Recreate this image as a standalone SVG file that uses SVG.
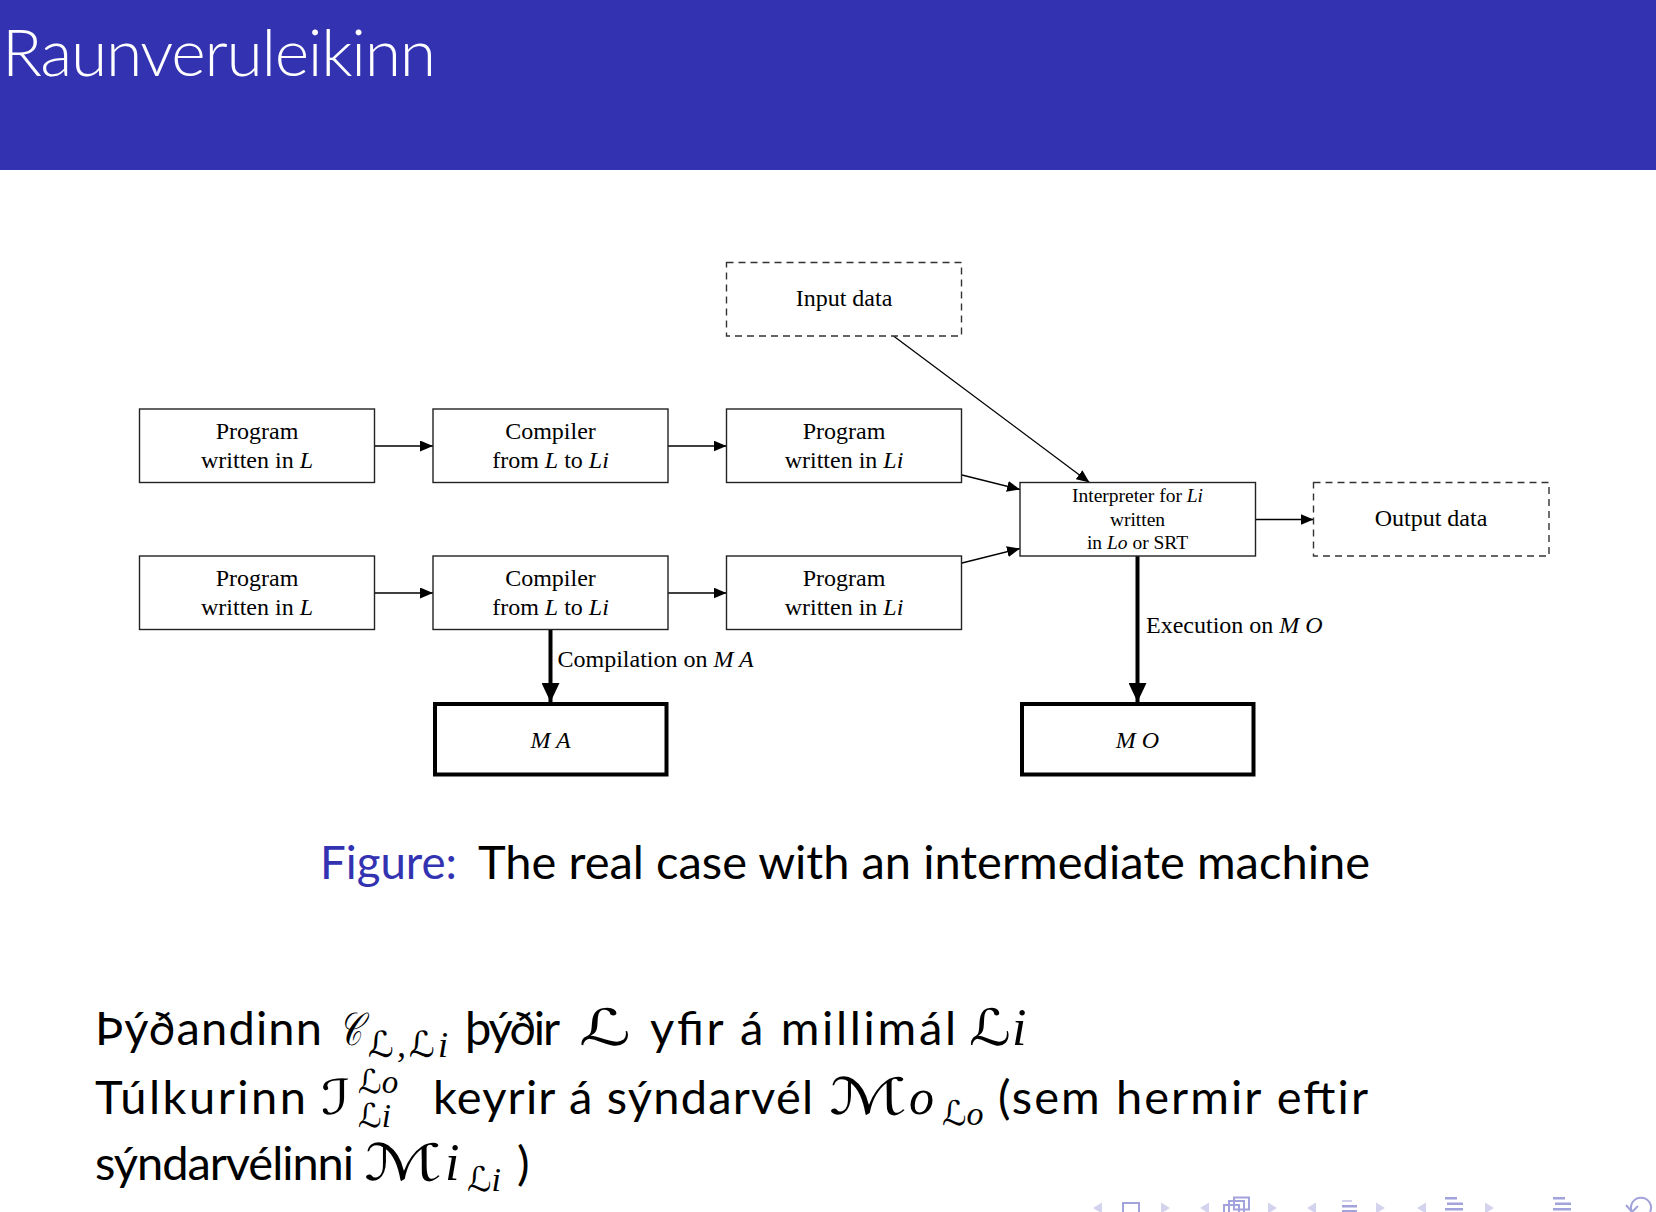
<svg xmlns="http://www.w3.org/2000/svg" width="1656" height="1212" viewBox="0 0 1656 1212">
  <style>
    .box { fill: #ffffff; stroke: #222222; stroke-width: 1.4; }
    .dash { fill: #ffffff; stroke: #333333; stroke-width: 1.4; stroke-dasharray: 7 5; }
    .mach { fill: #ffffff; stroke: #000000; stroke-width: 4; }
    .lbl { font-family: "Liberation Serif", "Times New Roman", serif; font-size: 24px; fill: #000; text-anchor: middle; }
    .small { font-size: 19.5px; }
    .edge { font-family: "Liberation Serif", "Times New Roman", serif; font-size: 24px; fill: #000; }
    .it { font-style: italic; }
    .thin { stroke: #000; stroke-width: 1.3; fill: none; marker-end: url(#head); }
    .thick { stroke: #000; stroke-width: 4; fill: none; marker-end: url(#bighead); }
    .body { font-family: Lato, "Noto Sans", sans-serif; font-size: 47px; fill: #000; }
    .fig { fill: #3333b2; }
    .math { font-family: "DejaVu Serif", "DejaVu Sans", serif; font-style: italic; fill: #000; }
    .var { font-family: "Liberation Serif", "Times New Roman", serif; font-style: italic; }
    .navtri { fill: #d3d3ee; }
    .navico { fill: none; stroke: #a2a2dc; stroke-width: 2; }
    .navbar { fill: #a2a2dc; }
  </style>
  <defs>
    <marker id="head" markerUnits="userSpaceOnUse" markerWidth="14" markerHeight="11" refX="13" refY="5.5" orient="auto">
      <path d="M0,0 L13,5.5 L0,11 z" fill="#000"/>
    </marker>
    <marker id="bighead" markerUnits="userSpaceOnUse" markerWidth="20" markerHeight="18" refX="19" refY="9" orient="auto">
      <path d="M0,0 L19,9 L0,18 z" fill="#000"/>
    </marker>
  </defs>

  <!-- frame title bar -->
  <rect x="0" y="0" width="1656" height="170" fill="#3333b2"/>
  <text x="2" y="76" font-family="Lato, 'Noto Sans', sans-serif" font-weight="300" font-size="66" fill="#ffffff" textLength="434" lengthAdjust="spacing">Raunveruleikinn</text>

  <!-- connectors -->
  <g id="connectors">
    <line class="thin" x1="374.5" y1="446" x2="433" y2="446"/>
    <line class="thin" x1="668" y1="446" x2="726.5" y2="446"/>
    <line class="thin" x1="374.5" y1="593" x2="433" y2="593"/>
    <line class="thin" x1="668" y1="593" x2="726.5" y2="593"/>
    <line class="thin" x1="962" y1="475" x2="1020" y2="489.5"/>
    <line class="thin" x1="962" y1="563" x2="1020" y2="548.5"/>
    <line class="thin" x1="893.5" y1="336" x2="1089.5" y2="482.5"/>
    <line class="thin" x1="1255.5" y1="519.5" x2="1313.5" y2="519.5"/>
    <line class="thick" x1="550.5" y1="630" x2="550.5" y2="702"/>
    <text class="edge" x="557.5" y="667">Compilation on <tspan class="it">M A</tspan></text>
    <line class="thick" x1="1137.5" y1="556" x2="1137.5" y2="702"/>
    <text class="edge" x="1146" y="633">Execution on <tspan class="it">M O</tspan></text>
  </g>

  <!-- nodes -->
  <g id="input-data">
    <rect class="dash" x="726.5" y="262.5" width="235" height="73.5"/>
    <text class="lbl" x="844" y="306">Input data</text>
  </g>
  <g id="prog-l-1">
    <rect class="box" x="139.5" y="409" width="235" height="73.5"/>
    <text class="lbl" x="257" y="439">Program</text>
    <text class="lbl" x="257" y="468">written in <tspan class="it">L</tspan></text>
  </g>
  <g id="compiler-1">
    <rect class="box" x="433" y="409" width="235" height="73.5"/>
    <text class="lbl" x="550.5" y="439">Compiler</text>
    <text class="lbl" x="550.5" y="468">from <tspan class="it">L</tspan> to <tspan class="it">Li</tspan></text>
  </g>
  <g id="prog-li-1">
    <rect class="box" x="726.5" y="409" width="235" height="73.5"/>
    <text class="lbl" x="844" y="439">Program</text>
    <text class="lbl" x="844" y="468">written in <tspan class="it">Li</tspan></text>
  </g>
  <g id="interpreter">
    <rect class="box" x="1020" y="482.5" width="235.5" height="73.5"/>
    <text class="lbl small" x="1137.5" y="502">Interpreter for <tspan class="it">Li</tspan></text>
    <text class="lbl small" x="1137.5" y="525.5">written</text>
    <text class="lbl small" x="1137.5" y="549">in <tspan class="it">Lo</tspan> or SRT</text>
  </g>
  <g id="output-data">
    <rect class="dash" x="1313.5" y="482.5" width="235.5" height="73.5"/>
    <text class="lbl" x="1431" y="526">Output data</text>
  </g>
  <g id="prog-l-2">
    <rect class="box" x="139.5" y="556" width="235" height="73.5"/>
    <text class="lbl" x="257" y="586">Program</text>
    <text class="lbl" x="257" y="615">written in <tspan class="it">L</tspan></text>
  </g>
  <g id="compiler-2">
    <rect class="box" x="433" y="556" width="235" height="73.5"/>
    <text class="lbl" x="550.5" y="586">Compiler</text>
    <text class="lbl" x="550.5" y="615">from <tspan class="it">L</tspan> to <tspan class="it">Li</tspan></text>
  </g>
  <g id="prog-li-2">
    <rect class="box" x="726.5" y="556" width="235" height="73.5"/>
    <text class="lbl" x="844" y="586">Program</text>
    <text class="lbl" x="844" y="615">written in <tspan class="it">Li</tspan></text>
  </g>
  <g id="machine-ma">
    <rect class="mach" x="435" y="704" width="231.5" height="70.5"/>
    <text class="lbl it" x="550.5" y="747.5">M A</text>
  </g>
  <g id="machine-mo">
    <rect class="mach" x="1022" y="704" width="231.5" height="70.5"/>
    <text class="lbl it" x="1137.5" y="747.5">M O</text>
  </g>

  <!-- caption -->
  <text class="body fig" x="320" y="879" font-size="45" textLength="137" lengthAdjust="spacingAndGlyphs">Figure:</text>
  <text class="body" x="478" y="879" font-size="45" textLength="892" lengthAdjust="spacing">The real case with an intermediate machine</text>

  <!-- body text, line 1 -->
  <text class="body" x="95" y="1045" textLength="227" lengthAdjust="spacing">Þýðandinn</text>
  <text class="math" x="339" y="1045" font-size="46" textLength="23" lengthAdjust="spacingAndGlyphs">𝒞</text>
  <text class="math" x="368" y="1057" font-size="36" textLength="80" lengthAdjust="spacing">ℒ<tspan class="var">,</tspan>ℒ<tspan class="var">i</tspan></text>
  <text class="body" x="465" y="1045" textLength="95" lengthAdjust="spacing">þýðir</text>
  <text class="math" x="579" y="1045" font-size="50" textLength="52" lengthAdjust="spacingAndGlyphs">ℒ</text>
  <text class="body" x="650" y="1045" textLength="306" lengthAdjust="spacing">yfir á millimál</text>
  <text class="math" x="969" y="1045" font-size="50" textLength="42" lengthAdjust="spacingAndGlyphs">ℒ</text>
  <text class="math var" x="1012" y="1045" font-size="52">i</text>

  <!-- body text, line 2 -->
  <text class="body" x="95" y="1114" textLength="211" lengthAdjust="spacing">Túlkurinn</text>
  <text class="math" x="321" y="1114" font-size="48" textLength="30" lengthAdjust="spacingAndGlyphs">ℐ</text>
  <text class="math" x="358" y="1093" font-size="33">ℒ<tspan class="var">o</tspan></text>
  <text class="math" x="358" y="1127" font-size="33">ℒ<tspan class="var">i</tspan></text>
  <text class="body" x="433" y="1114" textLength="380" lengthAdjust="spacing">keyrir á sýndarvél</text>
  <text class="math" x="829" y="1114" font-size="50" textLength="78" lengthAdjust="spacingAndGlyphs">ℳ</text>
  <text class="math var" x="909" y="1114" font-size="50">o</text>
  <text class="math" x="942" y="1125" font-size="34">ℒ<tspan class="var">o</tspan></text>
  <text class="body" x="998" y="1114" textLength="370" lengthAdjust="spacing">(sem hermir eftir</text>

  <!-- body text, line 3 -->
  <text class="body" x="95" y="1180" textLength="259" lengthAdjust="spacing">sýndarvélinni</text>
  <text class="math" x="364" y="1180" font-size="50" textLength="78" lengthAdjust="spacingAndGlyphs">ℳ</text>
  <text class="math var" x="445" y="1180" font-size="52">i</text>
  <text class="math" x="467" y="1191" font-size="34">ℒ<tspan class="var">i</tspan></text>
  <text class="body" x="517" y="1180">)</text>

  <!-- navigation symbols -->
  <g id="nav">
    <polygon class="navtri" points="1093,1208 1102,1202.5 1102,1213.5"/>
    <rect class="navico" x="1123" y="1203" width="16" height="14"/>
    <polygon class="navtri" points="1170,1208 1161,1202.5 1161,1213.5"/>
    <polygon class="navtri" points="1200,1208 1209,1202.5 1209,1213.5"/>
    <rect class="navico" x="1234" y="1197.5" width="15" height="12"/>
    <rect class="navico" x="1229" y="1201" width="15" height="12" fill="#fff"/>
    <rect class="navico" x="1224" y="1205" width="15" height="12" fill="#fff"/>
    <polygon class="navtri" points="1277,1208 1268,1202.5 1268,1213.5"/>
    <polygon class="navtri" points="1307,1208 1316,1202.5 1316,1213.5"/>
    <rect class="navbar" x="1342" y="1200" width="10" height="2" opacity="0.5"/>
    <rect class="navbar" x="1342" y="1205" width="15" height="2.5"/>
    <rect class="navbar" x="1342" y="1210" width="15" height="2"/>
    <polygon class="navtri" points="1385,1208 1376,1202.5 1376,1213.5"/>
    <polygon class="navtri" points="1417,1208 1426,1202.5 1426,1213.5"/>
    <rect class="navbar" x="1445" y="1197" width="12" height="2.5"/>
    <rect class="navbar" x="1447" y="1202.5" width="16" height="2.5"/>
    <rect class="navbar" x="1445" y="1208" width="18" height="2.5"/>
    <polygon class="navtri" points="1494,1208 1485,1202.5 1485,1213.5"/>
    <rect class="navbar" x="1553" y="1197" width="12" height="2.5"/>
    <rect class="navbar" x="1555" y="1202.5" width="16" height="2.5"/>
    <rect class="navbar" x="1553" y="1208" width="18" height="2.5"/>
    <path class="navico" d="M1632,1212 A10,10 0 1 1 1650,1212"/>
    <path class="navico" d="M1626,1205 L1632,1212 L1638,1206"/>
  </g>
</svg>
